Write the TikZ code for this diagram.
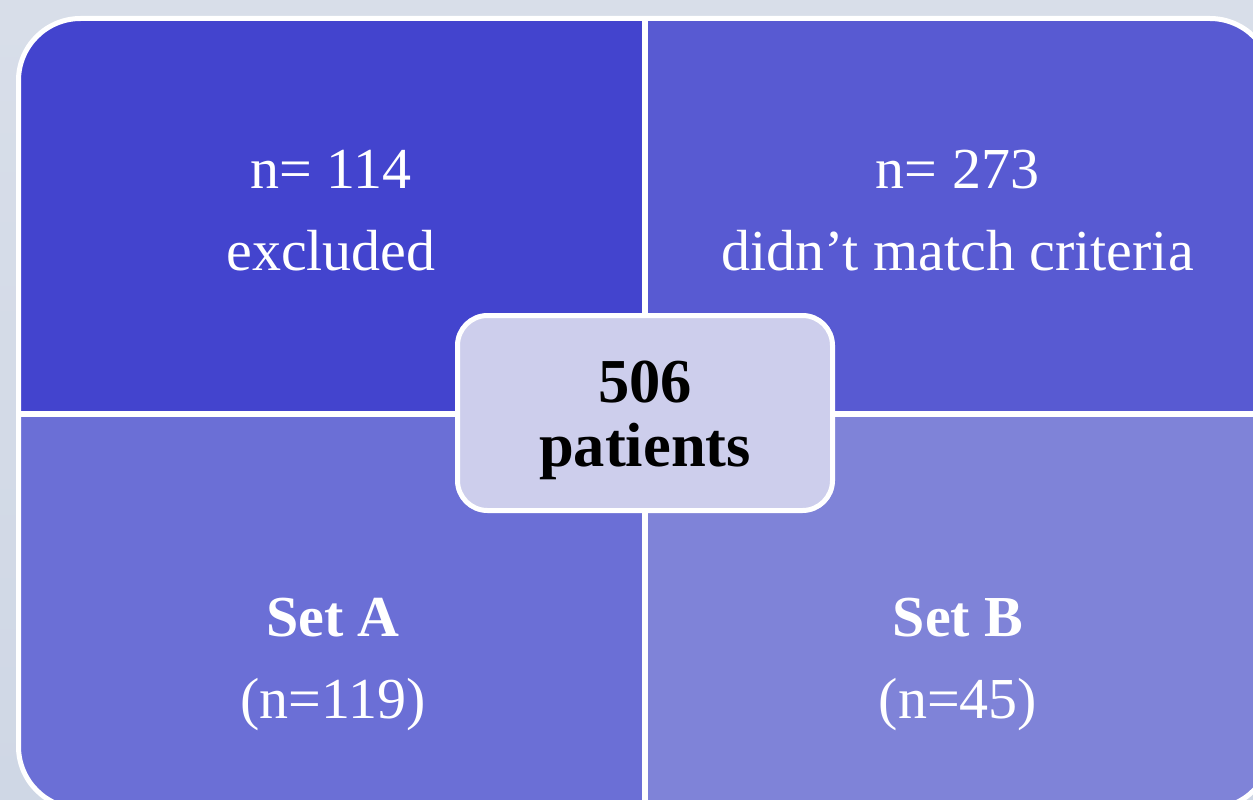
\documentclass[tikz,border=0pt]{standalone}
\usepackage{fontspec}
\setmainfont{Liberation Serif}
\definecolor{bgtop}{RGB}{216,222,233}
\definecolor{bgbot}{RGB}{207,215,229}
\definecolor{qTL}{RGB}{67,68,206}
\definecolor{qTR}{RGB}{88,90,210}
\definecolor{qBL}{RGB}{107,111,214}
\definecolor{qBR}{RGB}{127,131,216}
\definecolor{hubfill}{RGB}{205,206,236}
\tikzset{
  qtext/.style={text=white, anchor=base, inner sep=0pt, font=\fontsize{58}{70}\selectfont},
  qbold/.style={qtext, font=\fontsize{58}{70}\selectfont\bfseries},
  hubbox/.style={fill=hubfill, draw=white, line width=5pt, rounded corners=30pt,
    minimum width=375pt, minimum height=195pt, inner sep=0pt},
  hubtext/.style={text=black, anchor=base, inner sep=0pt, font=\fontsize{62.5}{70}\selectfont\bfseries},
  divider/.style={white, line width=6pt},
  frame/.style={white, line width=5pt, rounded corners=62pt}
}
\begin{document}
\begin{tikzpicture}[x=1pt, y=-1pt]
  \useasboundingbox (0,0) rectangle (1253,800);
  \clip (0,0) rectangle (1253,800);
  % page background
  \shade[top color=bgtop, bottom color=bgbot] (0,0) rectangle (1253,800);

  % four coloured quadrants inside a rounded frame
  \begin{scope}
    \clip[rounded corners=62pt] (18.5,18.5) rectangle (1272,808.5);
    \fill[qTL] (18.5,18.5)  rectangle (644.5,413.5);
    \fill[qTR] (644.5,18.5) rectangle (1272,413.5);
    \fill[qBL] (18.5,413.5) rectangle (644.5,808.5);
    \fill[qBR] (644.5,413.5) rectangle (1272,808.5);
  \end{scope}
  \draw[frame] (18.5,18.5) rectangle (1272,808.5);
  \draw[divider] (644.5,18.5) -- (644.5,808.5);
  \draw[divider] (18.5,413.5) -- (1272,413.5);

  % quadrant labels
  \node[qtext] (tl1) at (331,188) {n= 114};
  \node[qtext] (tl2) at (331,270) {excluded};
  \node[qtext] (tr1) at (957.5,188) {n= 273};
  \node[qtext] (tr2) at (957.5,270) {didn’t match criteria};
  \node[qbold] (bl1) at (333,636) {Set A};
  \node[qtext] (bl2) at (333,718) {(n=119)};
  \node[qbold] (br1) at (958,636) {Set B};
  \node[qtext] (br2) at (958,718) {(n=45)};

  % central total
  \node[hubbox] (hub) at (645,413) {};
  \node[hubtext] (hub1) at (645,402) {506};
  \node[hubtext] (hub2) at (645,466) {patients};
\end{tikzpicture}
\end{document}
